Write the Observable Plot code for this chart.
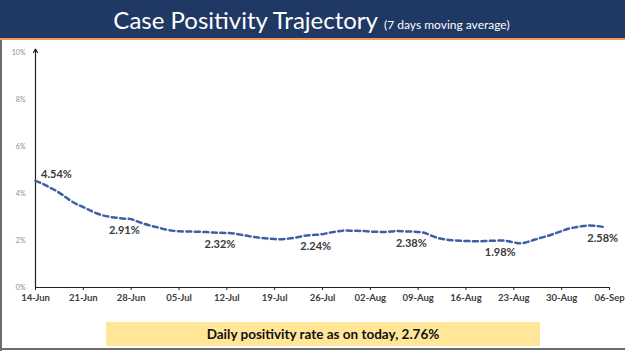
<!DOCTYPE html>
<html>
<head>
<meta charset="utf-8">
<script src="https://cdn.jsdelivr.net/npm/d3@7"></script>
<script src="https://cdn.jsdelivr.net/npm/@observablehq/plot@0.6"></script>
<style>
  html, body { margin:0; padding:0; background:#fff; }
  #wrap { position:relative; width:625px; height:351px; overflow:hidden; background:#fff; font-family: Lato, "Open Sans", sans-serif; }
  #title { position:absolute; left:0; top:0; width:625px; height:40px; background:#1f3864; border-bottom:2px solid #ed9a5a; box-sizing:border-box; text-align:center; color:#fff; }
  #title .main { font-size:24px; line-height:40px; position:relative; left:-2px; }
  #title .sub { font-size:12px; }
  #leftb { position:absolute; left:0; top:40px; width:2px; height:311px; background:#6d6d6d; }
  #bottomb { position:absolute; left:0; top:348px; width:625px; height:2px; background:#6d6d6d; }
  #chart { position:absolute; left:0; top:40px; }
  #note { position:absolute; left:106px; top:322px; width:434px; height:24px; background:#ffe699; text-align:center; font-weight:700; font-size:13.5px; line-height:24px; color:#111; }
</style>
</head>
<body>
<div id="wrap">
  <div id="title"><span class="main">Case Positivity Trajectory</span> <span class="sub">(7 days moving average)</span></div>
  <div id="chart"></div>
  <div id="leftb"></div>
  <div id="bottomb"></div>
  <div id="note">Daily positivity rate as on today, 2.76%</div>
</div>
<script>
// Daily 7-day moving average positivity (%) from 14-Jun onwards
const startDate = "2020-06-14";
const endDate = "2020-09-06";
const positivity = [
  4.54, 4.42, 4.27, 4.12, 3.93, 3.72, 3.55, 3.42, 3.28, 3.15,
  3.06, 3.00, 2.96, 2.93, 2.91, 2.80, 2.70, 2.62, 2.55, 2.47,
  2.42, 2.39, 2.38, 2.38, 2.37, 2.36, 2.34, 2.33, 2.32, 2.30,
  2.25, 2.20, 2.15, 2.11, 2.08, 2.06, 2.05, 2.08, 2.12, 2.18,
  2.22, 2.24, 2.27, 2.33, 2.38, 2.42, 2.42, 2.41, 2.40, 2.38,
  2.37, 2.36, 2.38, 2.40, 2.39, 2.38, 2.36, 2.32, 2.20, 2.10,
  2.04, 2.01, 1.99, 1.98, 1.97, 1.97, 1.98, 1.99, 2.00, 1.98,
  1.92, 1.88, 1.94, 2.03, 2.12, 2.20, 2.30, 2.40, 2.50, 2.56,
  2.61, 2.64, 2.62, 2.58
];
const tickDates = ["2020-06-14","2020-06-21","2020-06-28","2020-07-05","2020-07-12","2020-07-19","2020-07-26","2020-08-02","2020-08-09","2020-08-16","2020-08-23","2020-08-30","2020-09-06"];
const yTicks = [0, 2, 4, 6, 8, 10];
const labelDates = ["2020-06-14","2020-06-27","2020-07-11","2020-07-25","2020-08-08","2020-08-21","2020-09-05"];
const labelValues = [4.54, 2.91, 2.32, 2.24, 2.38, 1.98, 2.58];
const labelLinePos = [4.54, 2.93, 2.33, 2.24, 2.39, 1.99, 2.58]; // line level at label's date

const parse = d3.utcParse("%Y-%m-%d");
const start = parse(startDate);
const series = positivity.map((v, i) => ({date: d3.utcDay.offset(start, i), value: v}));
const labels = labelDates.map((d, i) => ({date: parse(d), value: labelLinePos[i], text: labelValues[i].toFixed(2) + "%", first: i === 0}));

const plot = Plot.plot({
  width: 625,
  height: 270,
  marginTop: 12,
  marginBottom: 23,
  marginLeft: 35,
  marginRight: 16,
  style: {background: "transparent", overflow: "visible"},
  x: {type: "utc", domain: [start, parse(endDate)], label: null},
  y: {domain: [0, 10], label: null},
  marks: [
    Plot.axisY({ticks: yTicks, tickFormat: d => d + "%", tickSize: 0, tickPadding: 10, fontSize: 7, fill: "#8c8c8c", fontFamily: "Lato, sans-serif", label: null}),
    Plot.axisX({ticks: tickDates.map(parse), tickFormat: d3.utcFormat("%d-%b"), tickSize: 3, tickPadding: 4, fontSize: 9.5, fontWeight: "bold", fill: "#404040", stroke: "#222", fontFamily: "Lato, sans-serif", label: null}),
    Plot.ruleY([0], {stroke: "#222", strokeWidth: 1.2}),
    Plot.arrow([0], {x1: () => start, x2: () => start, y1: () => 0, y2: () => 10.15, bend: 0, headLength: 5, stroke: "#222", strokeWidth: 1.2}),
    Plot.line(series, {x: "date", y: "value", curve: "catmull-rom", stroke: "#3d5fa5", strokeWidth: 2.5, strokeDasharray: "5,3.5"}),
    Plot.text(labels.filter(d => d.first), {x: "date", y: "value", text: "text", dx: 21, dy: -6, fontSize: 11, fontWeight: "bold", fill: "#3a3a3a", fontFamily: "Lato, sans-serif"}),
    Plot.text(labels.filter(d => !d.first), {x: "date", y: "value", text: "text", dy: 12, fontSize: 11, fontWeight: "bold", fill: "#3a3a3a", fontFamily: "Lato, sans-serif"})
  ]
});
document.getElementById("chart").appendChild(plot);
</script>
</body>
</html>
